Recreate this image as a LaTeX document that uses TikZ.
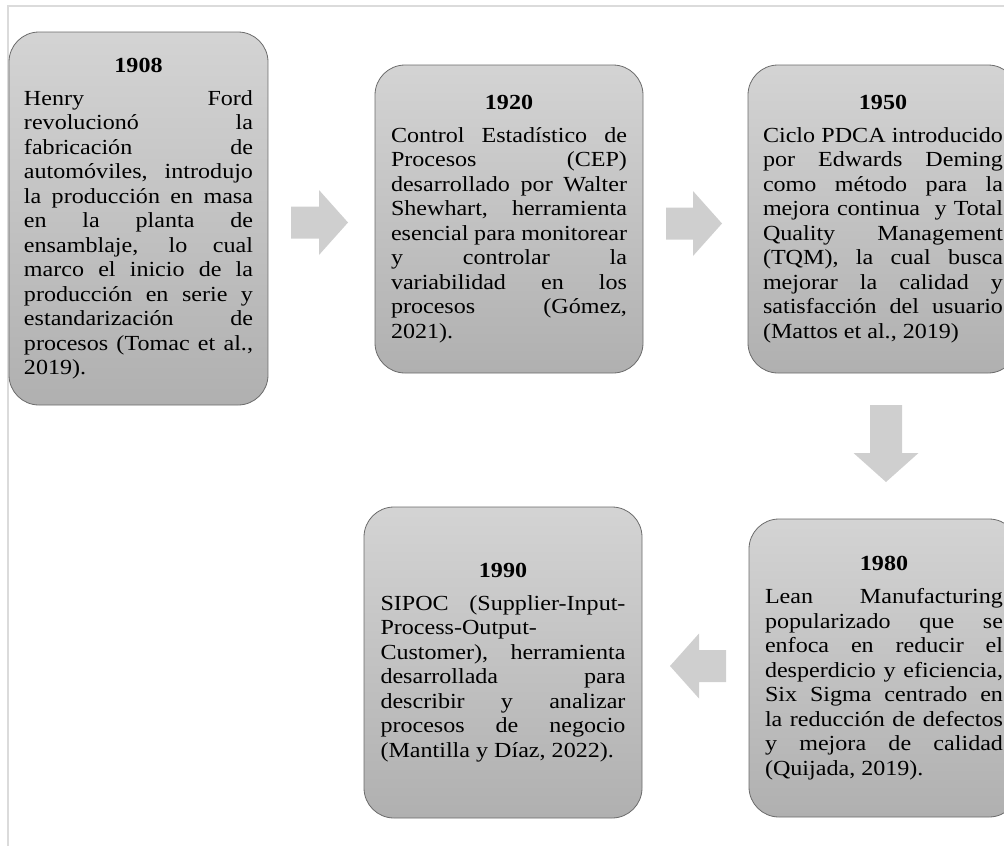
\documentclass[tikz,border=0pt]{standalone}
\usepackage{fontspec}
\setmainfont{Liberation Serif}[FakeStretch=1.12]
\usepackage{xcolor}
\hyphenpenalty=10000
\exhyphenpenalty=10000
\tolerance=10000
\hbadness=10000

\tikzset{
  caja/.style={draw=black!58, line width=0.8pt, rounded corners=30pt,
    top color=black!17, bottom color=black!31, inner sep=0pt,
    align=justify, font=\fontsize{21.5}{24.5}\selectfont},
  flecha/.style={fill=black!19},
  marco/.style={draw=black!14, line width=2pt}
}
\newcommand{\hito}[2]{{\centering\textbf{#1}\par}\vspace{8.5pt}#2}

\begin{document}
\begin{tikzpicture}[x=1pt,y=-1pt]
  \useasboundingbox (0,0) rectangle (1004,846);
  \clip (0,0) rectangle (1004,846);
  \draw[marco] (8,846) -- (8,6) -- (1004,6);

  % hitos
  \node[caja, minimum width=259pt, minimum height=373pt, text width=229pt] (h1908) at (138.5,218.5)
    {\hito{1908}{Henry Ford\linebreak revolucionó la\linebreak fabricación de\linebreak automóviles, introdujo\linebreak la producción en masa\linebreak en la planta de\linebreak ensamblaje, lo cual\linebreak marco el inicio de la\linebreak producción en serie y\linebreak estandarización de\linebreak procesos (Tomac et al.,\linebreak 2019).}};
  \node[caja, minimum width=268pt, minimum height=308pt, text width=236pt] (h1920) at (509,219)
    {\hito{1920}{Control Estadístico de\linebreak Procesos (CEP)\linebreak desarrollado por Walter\linebreak Shewhart, herramienta\linebreak esencial para monitorear\linebreak y controlar la\linebreak variabilidad en los\linebreak procesos (Gómez,\linebreak 2021).}};
  \node[caja, minimum width=270pt, minimum height=308pt, text width=240pt] (h1950) at (883,219)
    {\hito{1950}{Ciclo PDCA introducido\linebreak por Edwards Deming\linebreak como método para la\linebreak mejora continua\ \ y Total\linebreak Quality Management\linebreak (TQM), la cual busca\linebreak mejorar la calidad y\linebreak satisfacción del usuario\linebreak (Mattos et al., 2019)}};
  \node[caja, minimum width=270pt, minimum height=298pt, text width=238pt] (h1980) at (884,668)
    {\hito{1980}{Lean Manufacturing\linebreak popularizado que se\linebreak enfoca en reducir el\linebreak desperdicio y eficiencia,\linebreak Six Sigma centrado en\linebreak la reducción de defectos\linebreak y mejora de calidad\linebreak (Quijada, 2019).}};
  \node[caja, minimum width=278pt, minimum height=311pt, text width=245pt] (h1990) at (503,662.5)
    {\hito{1990}{SIPOC (Supplier-Input-\linebreak Process-Output-\linebreak Customer), herramienta\linebreak desarrollada para\linebreak describir y analizar\linebreak procesos de negocio\linebreak (Mantilla y Díaz, 2022).}};

  % flechas
  \foreach \x/\y/\r/\l in {291/222.5/0/57, 666/223.5/0/56, 886/405/-90/77, 726/666/180/56}{
    \fill[flecha, shift={(\x,\y)}, rotate=\r]
      (0,-16) -- (\l-29,-16) -- (\l-29,-32.5) -- (\l,0) -- (\l-29,32.5) -- (\l-29,16) -- (0,16) -- cycle;}
\end{tikzpicture}
\end{document}
